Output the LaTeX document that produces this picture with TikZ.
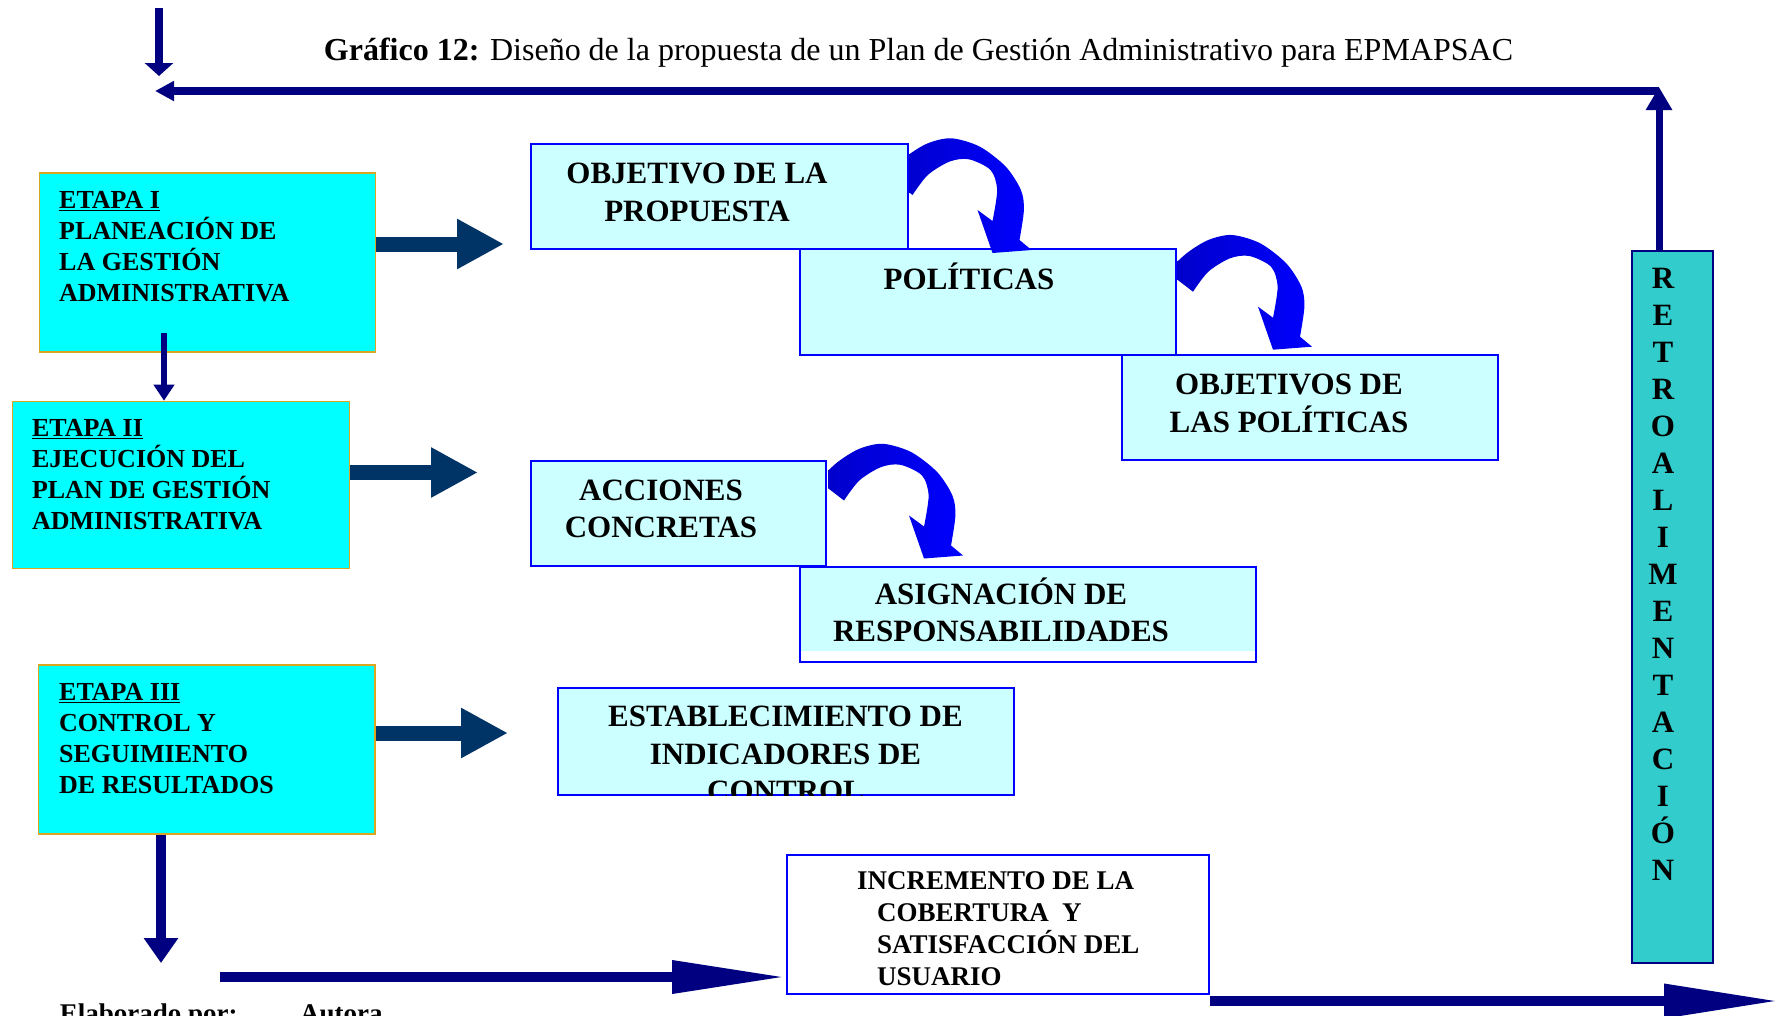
\documentclass[tikz,border=0pt]{standalone}
\usepackage{fontspec}
\setmainfont{Liberation Serif}
\usetikzlibrary{arrows.meta}

\definecolor{celeste}{RGB}{0,255,255}
\definecolor{cielo}{RGB}{204,255,255}
\definecolor{turquesa}{RGB}{51,204,204}
\definecolor{dorado}{RGB}{218,165,32}
\definecolor{marino}{RGB}{0,0,128}
\definecolor{azulosc}{RGB}{0,51,102}
\definecolor{azulcurva}{RGB}{0,0,200}

\tikzset{
  etapa/.style={draw=dorado, fill=celeste, line width=1.5pt, anchor=north west, inner sep=0pt},
  caja/.style={draw=blue, fill=cielo, line width=2pt, anchor=north west, inner sep=0pt},
  txtetapa/.style={anchor=north west, align=left, inner sep=0pt, font=\fontsize{26}{31}\selectfont\bfseries},
  txtcaja/.style={align=center, inner sep=0pt, font=\fontsize{31}{37.4}\selectfont\bfseries},
  bloque/.style={azulosc, line width=15pt, -{Triangle[length=47pt,width=47pt]}},
  flechacurva/.pic={
    \shade[left color=azulcurva, right color=blue]
      plot[smooth] coordinates {(0,0) (19.6,-18.4) (41.3,-31.7) (65,-36.7) (93.2,-28.4) (119.2,-8.4) (134.4,15) (137.4,35) (133,65)}
      -- (145,75) -- (106,78) -- (91,35)
      -- plot[smooth] coordinates {(106,46) (110.6,15) (104,-5) (82.4,-15.7) (63,-13.4) (41.3,0) (26,20)}
      -- cycle;
  },
}

\begin{document}
\begin{tikzpicture}[x=1pt,y=-1pt]
    \useasboundingbox (0,0) rectangle (1779,1015);
    \clip (0,0) rectangle (1779,1015);
    \fill[white] (0,0) rectangle (1779,1015);

    \node[font=\fontsize{32}{38}\selectfont] (titulo) at (918.5,53) {\textbf{Gráfico 12:} Diseño de la propuesta de un Plan de Gestión Administrativo para EPMAPSAC};

    % etapas
    \node[etapa, minimum width=336pt, minimum height=179pt] (etapa1) at (38.6,172) {};
    \node[etapa, minimum width=337pt, minimum height=167pt] (etapa2) at (11.8,400.7) {};
    \node[etapa, minimum width=336.5pt, minimum height=169pt] (etapa3) at (37.5,664) {};
    \node[txtetapa] (texto1) at (59,191) {\underline{ETAPA I}\\PLANEACIÓN DE\\LA GESTIÓN\\ADMINISTRATIVA};
    \node[txtetapa] (texto2) at (31.8,419) {\underline{ETAPA II}\\EJECUCIÓN DEL\\PLAN DE GESTIÓN\\ADMINISTRATIVA};
    \node[txtetapa] (texto3) at (59,683) {\underline{ETAPA III}\\CONTROL Y\\SEGUIMIENTO\\DE RESULTADOS};

    % cajas
    \node[caja, minimum width=377pt, minimum height=105pt] (objetivo) at (529.6,143.3) {};
    \node[caja, minimum width=376pt, minimum height=106pt] (politicas) at (798.5,248.3) {};
    \node[caja, minimum width=376pt, minimum height=105pt] (objpol) at (1120.8,354) {};
    \node[caja, minimum width=295.4pt, minimum height=105pt] (acciones) at (529.6,460) {};
    \node[caja, fill=white, minimum width=456.5pt, minimum height=95.3pt,
      path picture={\fill[cielo] (path picture bounding box.north west) rectangle ([yshift=11pt]path picture bounding box.south east);}] (asignacion) at (798.5,565.7) {};
    \node[caja, minimum width=456pt, minimum height=107pt] (establec) at (556.6,687.3) {};
    \node[caja, fill=white, minimum width=422pt, minimum height=139pt] (incremento) at (786,854) {};
    \node[draw=marino, fill=turquesa, line width=2pt, anchor=north west, inner sep=0pt,
      minimum width=81pt, minimum height=712pt] (retro) at (1630.7,249.6) {};

    \node[txtcaja] (tobjetivo) at (697,192.3) {OBJETIVO DE LA\\PROPUESTA};
    \node[txtcaja] (tpoliticas) at (969,276) {POLÍTICAS};
    \node[txtcaja] (tobjpol) at (1289,403.3) {OBJETIVOS DE\\LAS POLÍTICAS};
    \node[txtcaja] (tacciones) at (661,508.8) {ACCIONES\\CONCRETAS};
    \node[txtcaja] (tasignacion) at (1001,609.8) {ASIGNACIÓN DE\\RESPONSABILIDADES};
    \begin{scope}
      \clip ([shift={(1,1)}]establec.north west) rectangle ([shift={(-1,-1)}]establec.south east);
      \node[txtcaja] (testablec) at (785.5,753.9) {ESTABLECIMIENTO DE\\INDICADORES DE\\CONTROL};
    \end{scope}
    \node[txtetapa, font=\fontsize{27}{31.8}\selectfont\bfseries] (tincremento) at (877,871.6)
      {\hspace*{-20pt}INCREMENTO DE LA\\COBERTURA\ \ Y\\SATISFACCIÓN DEL\\USUARIO};
    \node[txtcaja, anchor=north, font=\fontsize{31}{37}\selectfont\bfseries] (tretro) at (1663,267.7)
      {R\\E\\T\\R\\O\\A\\L\\I\\M\\E\\N\\T\\A\\C\\I\\Ó\\N};

    % flechas curvas
    \begin{scope}
      \clip ([xshift=1pt]objetivo.east |- 0,0) rectangle (1779,1015);
      \pic at (886.5,175) {flechacurva};
    \end{scope}
    \begin{scope}
      \clip ([xshift=1pt]politicas.east |- 0,0) rectangle (1779,1015);
      \pic at (1167,271.7) {flechacurva};
    \end{scope}
    \begin{scope}
      \clip ([xshift=1pt]acciones.east |- 0,0) rectangle (1779,1015);
      \pic at (818,480.5) {flechacurva};
    \end{scope}

    % flechas de bloque
    \coordinate (p1) at (504,244);
    \coordinate (p2) at (478,472.5);
    \coordinate (p3) at (508,733);
    \draw[bloque] (etapa1.east |- p1) -- (p1);
    \draw[bloque] (etapa2.east |- p2) -- (p2);
    \draw[bloque] (etapa3.east |- p3) -- (p3);

    % retroalimentacion
    \coordinate (entrada) at (159,8);
    \coordinate (llegada) at (159,76);
    \coordinate (esquina) at (1659,91);
    \coordinate (retorno) at (155,91);
    \draw[marino, line width=8pt, -{Triangle[length=13pt,width=28pt]}] (entrada) -- (llegada);
    \draw[marino, line width=7pt, -{Triangle[length=23pt,width=25pt]}] (retro.north -| esquina) -- ([yshift=4pt]esquina);
    \draw[marino, line width=8pt, -{Triangle[length=19pt,width=19pt]}] (esquina) -- (retorno);

    % flechas entre etapas
    \coordinate (baja1) at (164,333);
    \coordinate (baja3) at (161,963);
    \draw[marino, line width=6pt, -{Triangle[length=16pt,width=20pt]}] (baja1) -- (baja1 |- etapa2.north);
    \draw[marino, line width=10pt, -{Triangle[length=25pt,width=33pt]}] (etapa3.south -| baja3) -- (baja3);

    \coordinate (salida) at (219.6,977);
    \coordinate (final) at (1779,1001);
    \draw[marino, line width=10pt, -{Triangle[length=114pt,width=31pt]}] (salida) -- (incremento.west |- salida);
    \draw[marino, line width=10pt, -{Triangle[length=115pt,width=32pt]}] (incremento.east |- final) -- (final);

    \node[anchor=north west, inner sep=0pt, font=\fontsize{27}{32}\selectfont\bfseries] (elaborado) at (59.6,1004) {Elaborado por:};
    \node[anchor=north west, inner sep=0pt, font=\fontsize{27}{32}\selectfont\bfseries] (autora) at (300,1004) {Autora};
\end{tikzpicture}
\end{document}
